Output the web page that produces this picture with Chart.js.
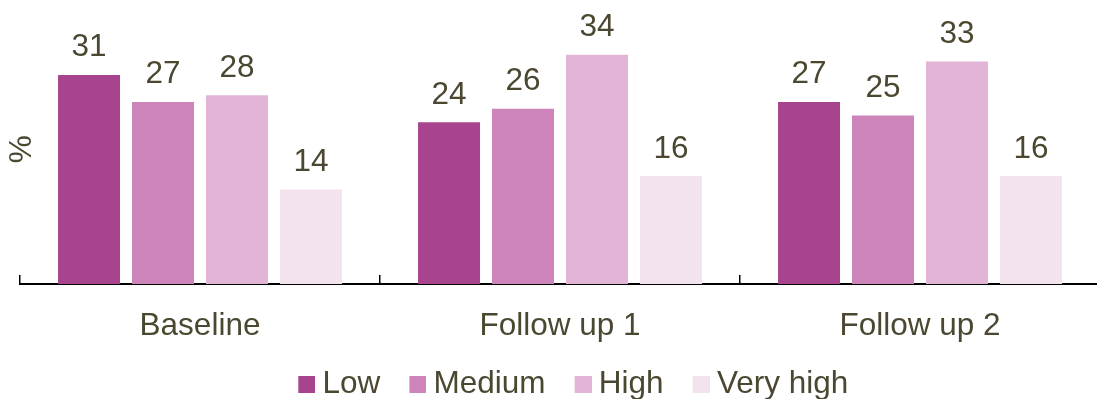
<!DOCTYPE html>
<html>
<head>
<meta charset="utf-8">
<script src="https://cdn.jsdelivr.net/npm/chart.js@4"></script>
<style>
  html, body { margin: 0; padding: 0; background: #ffffff; overflow: hidden; }
  #wrap { position: relative; width: 1100px; height: 399px; }
</style>
</head>
<body>
<div id="wrap"><canvas id="chart"></canvas></div>
<script>
// Share of respondents (%) per level, at each survey wave
const categories = ['Baseline', 'Follow up 1', 'Follow up 2'];
const seriesNames = ['Low', 'Medium', 'High', 'Very high'];
const low = [31, 24, 27];
const medium = [27, 26, 25];
const high = [28, 34, 33];
const veryHigh = [14, 16, 16];
const seriesColors = ['#a8448e', '#cc84bb', '#e2b4d6', '#f3e3ef'];

const textColor = '#4b4731';
const fontFamily = '"Liberation Sans", Arial, Helvetica, sans-serif';
const fontSize = 31.5;

// Legend swatch: square sitting at the right end of a transparent strip
function swatch(color) {
  const c = document.createElement('canvas');
  c.width = 52;
  c.height = 17;
  const g = c.getContext('2d');
  g.fillStyle = color;
  g.fillRect(35, 0, 17, 17);
  return c;
}

// Value printed above each bar
const valueLabels = {
  id: 'valueLabels',
  afterDatasetsDraw(chart) {
    const ctx = chart.ctx;
    ctx.save();
    ctx.font = fontSize + 'px ' + fontFamily;
    ctx.fillStyle = textColor;
    ctx.textAlign = 'center';
    ctx.textBaseline = 'alphabetic';
    chart.data.datasets.forEach((ds, i) => {
      const meta = chart.getDatasetMeta(i);
      if (meta.hidden) return;
      meta.data.forEach((bar, j) => {
        ctx.fillText(String(ds.data[j]), bar.x, bar.y - 18.5);
      });
    });
    ctx.restore();
  }
};

const seriesData = [low, medium, high, veryHigh];

new Chart(document.getElementById('chart'), {
  type: 'bar',
  data: {
    labels: categories,
    datasets: seriesNames.map((name, i) => ({
      label: name,
      data: seriesData[i],
      backgroundColor: seriesColors[i],
      borderWidth: 0,
      categoryPercentage: 0.822,
      barPercentage: 0.838
    }))
  },
  options: {
    responsive: true,
    maintainAspectRatio: false,
    animation: false,
    devicePixelRatio: 1,
    layout: { padding: { top: 14.3, right: 0, bottom: -11, left: 0 } },
    plugins: {
      tooltip: { enabled: false },
      legend: {
        position: 'bottom',
        fullSize: false,
        labels: {
          usePointStyle: true,
          pointStyleWidth: 35,
          boxHeight: 17,
          padding: 2.5,
          color: textColor,
          font: { family: fontFamily, size: fontSize },
          generateLabels(chart) {
            return chart.data.datasets.map((ds, i) => ({
              text: ds.label,
              fillStyle: ds.backgroundColor,
              strokeStyle: ds.backgroundColor,
              lineWidth: 0,
              pointStyle: swatch(ds.backgroundColor),
              fontColor: textColor,
              hidden: !chart.isDatasetVisible(i),
              datasetIndex: i
            }));
          }
        }
      }
    },
    scales: {
      x: {
        type: 'category',
        offset: true,
        grid: {
          display: true,
          offset: true,
          drawOnChartArea: false,
          drawTicks: true,
          tickLength: -9,
          color: '#000000',
          lineWidth: 1.5
        },
        border: { display: true, color: '#000000', width: 2 },
        ticks: {
          color: textColor,
          font: { family: fontFamily, size: fontSize },
          padding: 32,
          maxRotation: 0,
          autoSkip: false
        },
        afterFit(scale) { scale.height = 82; }
      },
      y: {
        min: 0,
        max: 40,
        grid: { display: false, drawTicks: false },
        border: { display: false },
        ticks: { display: false },
        title: {
          display: true,
          text: '%',
          color: textColor,
          font: { family: fontFamily, size: fontSize, lineHeight: 1 },
          padding: { top: 6.75, bottom: 0 }
        },
        afterFit(scale) { scale.width = 20; }
      }
    }
  },
  plugins: [valueLabels]
});
</script>
</body>
</html>
